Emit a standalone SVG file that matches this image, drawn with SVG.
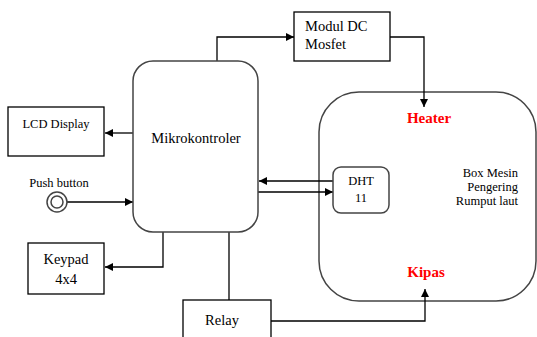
<svg xmlns="http://www.w3.org/2000/svg" width="537" height="337" viewBox="0 0 537 337">
<defs>
<marker id="ah" viewBox="0 0 10 10" refX="10" refY="5" markerWidth="8" markerHeight="8" markerUnits="userSpaceOnUse" orient="auto">
<path d="M0,0 L10,5 L0,10 z" fill="#000"/>
</marker>
<style>
.box{fill:#fff;stroke:#000;stroke-width:1.3}
.rbox{fill:#fff;stroke:#444;stroke-width:1.5}
text{font-family:'Liberation Serif','DejaVu Serif',serif}
.t{font-size:12.5px;fill:#000}
.b{font-size:14.5px;fill:#000}
.r{font-size:15px;font-weight:bold;fill:#f00}
.c{fill:none;stroke:#000;stroke-width:1.3}
</style>
</defs>
<rect width="537" height="337" fill="#fff"/>
<g id="box-mesin">
<rect class="rbox" x="319" y="92" width="217" height="209" rx="40"/>
<text class="r" x="429" y="123" text-anchor="middle">Heater</text>
<text class="r" x="426" y="277" text-anchor="middle">Kipas</text>
<text class="t" x="518" y="177" text-anchor="end">Box Mesin</text>
<text class="t" x="518" y="191" text-anchor="end">Pengering</text>
<text class="t" x="518" y="205" text-anchor="end">Rumput laut</text>
</g>
<g id="connectors">
<path class="c" d="M217,61 V37 H294" marker-end="url(#ah)"/>
<path class="c" d="M390,37 H424 V107" marker-end="url(#ah)"/>
<path class="c" d="M133,133 H105" marker-end="url(#ah)"/>
<path class="c" d="M67,202 H133" marker-end="url(#ah)"/>
<path class="c" d="M163,232 V267 H105" marker-end="url(#ah)"/>
<path class="c" d="M229,232 V300"/>
<path class="c" d="M271,321 H425 V289" marker-end="url(#ah)"/>
<path class="c" d="M333,181 H259" marker-end="url(#ah)"/>
<path class="c" d="M258,192 H333" marker-end="url(#ah)"/>
</g>
<g id="mikrokontroler">
<rect class="rbox" x="133" y="61" width="125" height="171" rx="20"/>
<text class="b" x="196" y="143" text-anchor="middle">Mikrokontroler</text>
</g>
<g id="modul-dc">
<rect class="box" x="294" y="12" width="96" height="49"/>
<text class="b" x="305" y="31">Modul DC</text>
<text class="b" x="305" y="49">Mosfet</text>
</g>
<g id="lcd">
<rect class="box" x="8" y="107" width="96" height="49"/>
<text class="t" x="56" y="128" text-anchor="middle">LCD Display</text>
</g>
<g id="push-button">
<text class="t" x="59" y="187" text-anchor="middle">Push button</text>
<circle cx="57" cy="202" r="10" fill="#fff" stroke="#444" stroke-width="1.5"/>
<circle cx="57" cy="202" r="6" fill="#fff" stroke="#444" stroke-width="1.5"/>
</g>
<g id="keypad">
<rect class="box" x="28" y="243" width="76" height="51"/>
<text class="b" x="66" y="264" text-anchor="middle">Keypad</text>
<text class="b" x="66" y="284" text-anchor="middle">4x4</text>
</g>
<g id="relay">
<rect class="box" x="183" y="300" width="88" height="45"/>
<text class="b" x="222" y="325" text-anchor="middle">Relay</text>
</g>
<g id="dht11">
<rect class="rbox" x="333" y="167" width="56" height="46" rx="8"/>
<text class="t" x="361" y="185" text-anchor="middle">DHT</text>
<text class="t" x="361" y="202" text-anchor="middle">11</text>
</g>
</svg>
